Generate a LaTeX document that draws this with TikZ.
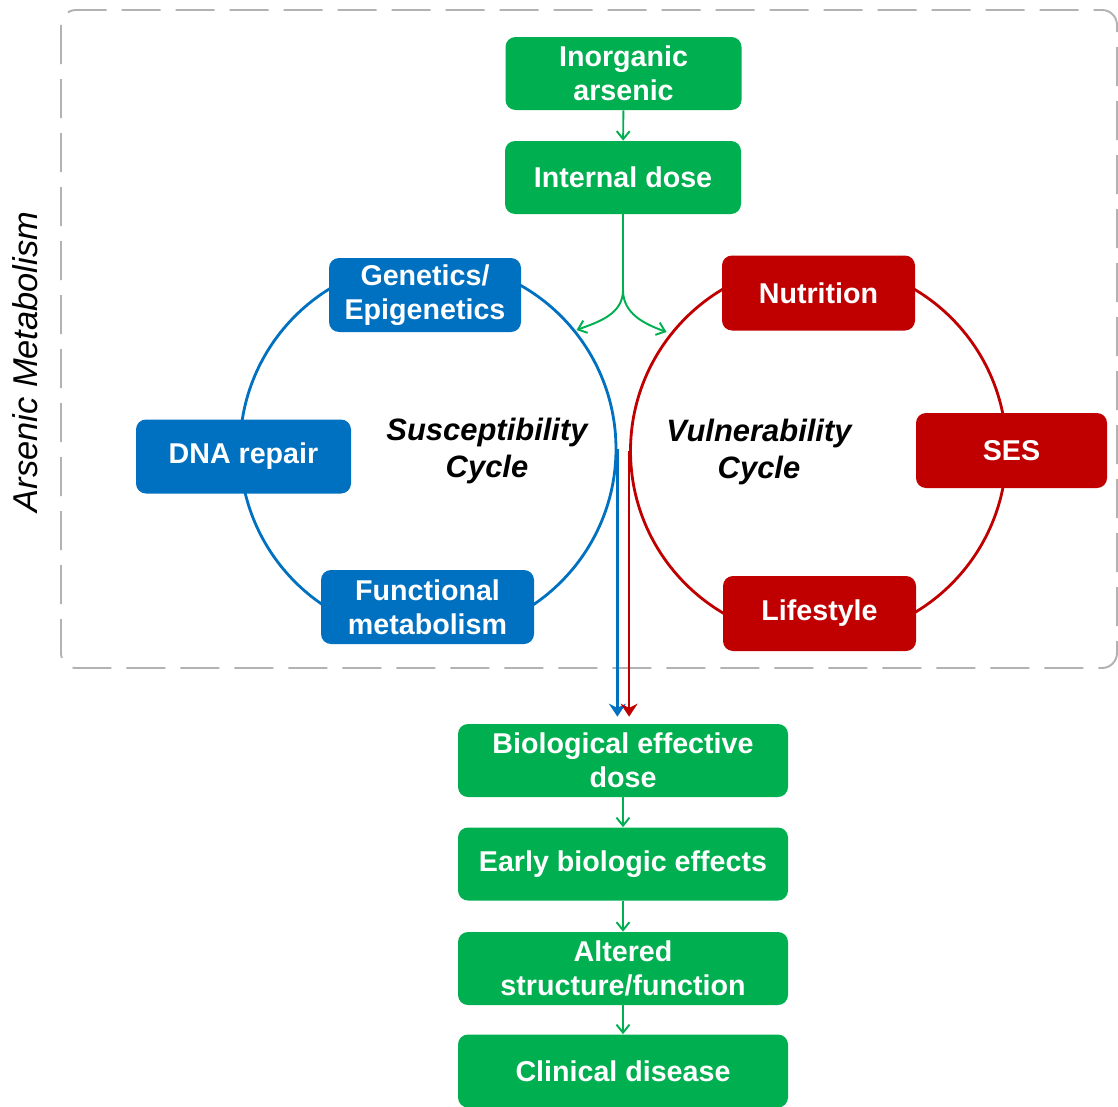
\documentclass[tikz,border=0pt]{standalone}
\usepackage{fontspec}
\setmainfont{Liberation Sans}
\usetikzlibrary{arrows.meta,positioning}
\definecolor{asgreen}{RGB}{0,176,80}
\definecolor{asblue}{RGB}{0,112,192}
\definecolor{asred}{RGB}{192,0,0}
\definecolor{asgrey}{RGB}{178,178,178}
\tikzset{
  box/.style={rounded corners=0.2cm, align=center, text=white, inner sep=0pt,
    font=\fontsize{16.3}{19.4}\selectfont\bfseries},
  greenbox/.style={box, fill=asgreen, minimum width=4.72cm, minimum height=1.46cm},
  widebox/.style={box, fill=asgreen, minimum width=6.6cm, minimum height=1.46cm},
  bluebox/.style={box, fill=asblue, minimum height=1.48cm},
  redbox/.style={box, fill=asred, minimum width=3.86cm, minimum height=1.5cm},
  cycle/.style={circle, draw, line width=1.6pt, inner sep=0pt, minimum size=7.52cm},
  cyclelabel/.style={align=center, font=\fontsize{17.6}{21}\selectfont\bfseries\itshape},
  smallarrow/.style={-{Straight Barb[length=0.16cm,width=0.26cm]}, asgreen, line width=1.1pt},
  downarrow/.style={-{Stealth[length=0.26cm,width=0.34cm]}, line width=1.5pt}
}
\begin{document}
\begin{tikzpicture}
  \useasboundingbox (0,0) rectangle (22.36,-22.14);

  %% dashed frame round the metabolism part
  \draw[asgrey, line width=1.1pt, dash pattern=on 0.78cm off 0.3cm, rounded corners=0.3cm]
    (1.22,-0.2) rectangle (22.34,-13.36);
  \node[rotate=90, font=\fontsize{19.6}{23}\selectfont\itshape] (label) at (0.5,-7.24) {Arsenic Metabolism};

  %% the two cycles
  \node[cycle, asblue] (suscirc) at (8.56,-8.98) {};
  \node[cycle, asred] (vulcirc) at (16.37,-9.02) {};
  \node[cyclelabel] (suslabel) at (9.74,-9.02) {Susceptibility\\Cycle};
  \node[cyclelabel] (vullabel) at (15.18,-9.04) {Vulnerability\\Cycle};

  %% exposure
  \node[greenbox] (inorg) at (12.47,-1.47) {Inorganic\\arsenic};
  \node[greenbox] (internal) at (12.46,-3.55) {Internal dose};

  %% susceptibility factors
  \node[bluebox, minimum width=3.84cm] (genetics) at (8.5,-5.9) {Genetics/\\Epigenetics};
  \node[bluebox, minimum width=4.3cm] (dnarepair) at (4.87,-9.13) {DNA repair};
  \node[bluebox, minimum width=4.26cm] (funcmet) at (8.55,-12.14) {Functional\\metabolism};

  %% vulnerability factors
  \node[redbox] (nutrition) at (16.37,-5.86) {Nutrition};
  \node[redbox, minimum width=3.82cm] (ses) at (20.23,-9.01) {SES};
  \node[redbox] (lifestyle) at (16.39,-12.27) {Lifestyle};

  %% outcomes
  \node[widebox] (bed) at (12.46,-15.21) {Biological effective\\dose};
  \node[widebox] (early) at (12.46,-17.28) {Early biologic effects};
  \node[widebox] (altered) at (12.46,-19.37) {Altered\\structure/function};
  \node[widebox] (clinical) at (12.46,-21.42) {Clinical disease};

  %% connectors
  \coordinate (fork) at (12.46,-5.8);
  \coordinate (lefttip) at (11.53,-6.6);
  \coordinate (righttip) at (13.33,-6.64);
  \draw[smallarrow] (inorg) -- (internal);
  \draw[asgreen, line width=1.1pt] (internal) -- (fork);
  \draw[smallarrow] (fork) to[out=-90, in=20] (lefttip);
  \draw[smallarrow] (fork) to[out=-90, in=160] (righttip);
  \draw[downarrow, asblue] (suscirc.east) -- ([yshift=0.14cm]suscirc.east |- bed.north);
  \draw[downarrow, asred] (vulcirc.west) -- ([yshift=0.14cm]vulcirc.west |- bed.north);
  \draw[smallarrow] (bed) -- (early);
  \draw[smallarrow] (early) -- (altered);
  \draw[smallarrow] (altered) -- (clinical);
\end{tikzpicture}
\end{document}
